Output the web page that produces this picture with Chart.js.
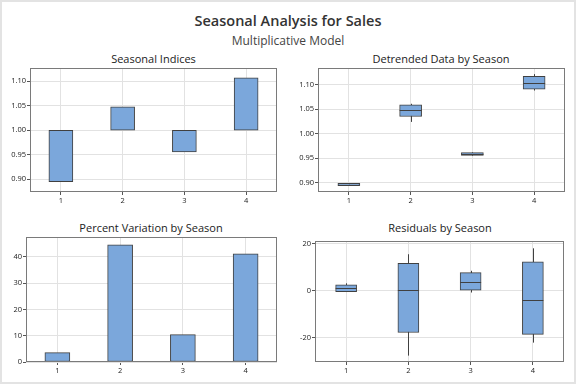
<!DOCTYPE html>
<html><head><meta charset="utf-8">
<script src="https://cdn.jsdelivr.net/npm/chart.js@4.4.0/dist/chart.umd.min.js"></script>
<style>
html,body{margin:0;padding:0;background:#fff;}
#page{position:relative;width:576px;height:384px;overflow:hidden;font-family:'Open Sans',sans-serif;color:#333;}
#border{position:absolute;left:0;top:0;width:576px;height:384px;box-sizing:border-box;border:2px solid #e3e3e3;pointer-events:none;}
.t{position:absolute;white-space:nowrap;transform:translate(-50%,-50%);line-height:1;}
canvas{position:absolute;}
</style></head><body>
<div id="page">
  <div class="t" style="left:288px;top:21px;font-size:14.5px;font-weight:600;color:#333;">Seasonal Analysis for Sales</div>
  <div class="t" style="left:288px;top:41px;font-size:12px;color:#444;">Multiplicative Model</div>
  <div class="t" style="left:153.5px;top:57.5px;font-size:11px;color:#222;">Seasonal Indices</div>
  <div class="t" style="left:441px;top:57.5px;font-size:11px;color:#222;">Detrended Data by Season</div>
  <div class="t" style="left:151px;top:226.5px;font-size:11px;color:#222;">Percent Variation by Season</div>
  <div class="t" style="left:440px;top:226.5px;font-size:11px;color:#222;">Residuals by Season</div>
  <canvas id="c1" width="288" height="166" style="left:0;top:44px;"></canvas>
  <canvas id="c2" width="288" height="166" style="left:288px;top:44px;"></canvas>
  <canvas id="c3" width="288" height="168" style="left:0;top:214px;"></canvas>
  <canvas id="c4" width="288" height="168" style="left:288px;top:214px;"></canvas>
  <div id="border"></div>
</div>
<script>
// ---- data ----
const seasons = ['1', '2', '3', '4'];
const indexBaseline = 1.0;
const seasonalIndices = [0.895, 1.048, 0.956, 1.107];
const indexTicks = [0.90, 0.95, 1.00, 1.05, 1.10];

const detrendedMin    = [0.894, 1.024, 0.955, 1.088];
const detrendedQ1     = [0.8942, 1.035, 0.9556, 1.091];
const detrendedMedian = [0.896, 1.049, 0.959, 1.104];
const detrendedQ3     = [0.8985, 1.059, 0.9615, 1.117];
const detrendedMax    = [0.899, 1.061, 0.962, 1.1215];
const detrendedTicks = [0.90, 0.95, 1.00, 1.05, 1.10];

const percentVariation = [3.6, 44.6, 10.4, 41.2];
const percentTicks = [0, 10, 20, 30, 40];

const residualMin    = [-0.5, -27.5, -0.8, -22.0];
const residualQ1     = [-0.4, -17.7, 0.0, -18.5];
const residualMedian = [1.3, 0.4, 3.8, -3.8];
const residualQ3     = [2.5, 11.6, 7.6, 12.2];
const residualMax    = [3.1, 15.4, 8.4, 17.9];
const residualTicks = [-20, 0, 20];

// ---- styles ----
const FILL = '#7ba7db';
const EDGE = '#404040';
const GRID = '#e2e2e2';
const TICKC = '#555';
const FONT = {family: "'Open Sans', sans-serif", size: 7.5};

const framePlugin = {
  id: 'frame',
  afterDatasetsDraw(chart) {
    const a = chart.chartArea, c = chart.ctx;
    c.save();
    c.strokeStyle = '#7a7a7a';
    c.lineWidth = 1;
    c.strokeRect(Math.round(a.left) + 0.5, Math.round(a.top) + 0.5,
                 Math.round(a.right - a.left) - 1, Math.round(a.bottom - a.top) - 1);
    c.restore();
  }
};

// whiskers (drawn under the boxes) and medians (drawn over), via the chart's scales
const boxPlugin = {
  id: 'boxparts',
  beforeDatasetsDraw(chart, args, opts) {
    if (!opts || !opts.min) return;
    const xs = chart.scales.x, ys = chart.scales.y, c = chart.ctx;
    c.save();
    c.strokeStyle = EDGE;
    c.lineWidth = 1;
    opts.min.forEach((v, i) => {
      const px = Math.round(xs.getPixelForValue(i)) + 0.5;
      c.beginPath();
      c.moveTo(px, ys.getPixelForValue(v));
      c.lineTo(px, ys.getPixelForValue(opts.max[i]));
      c.stroke();
    });
    c.restore();
  },
  afterDatasetsDraw(chart, args, opts) {
    if (!opts || !opts.median) return;
    const meta = chart.getDatasetMeta(0);
    const ys = chart.scales.y, c = chart.ctx;
    c.save();
    c.strokeStyle = EDGE;
    c.lineWidth = 1;
    meta.data.forEach((bar, i) => {
      const py = Math.round(ys.getPixelForValue(opts.median[i])) + 0.5;
      c.beginPath();
      c.moveTo(bar.x - bar.width / 2, py);
      c.lineTo(bar.x + bar.width / 2, py);
      c.stroke();
    });
    c.restore();
  }
};

function scales(yMin, yMax, yTicks, digits, yWidth, xHeight) {
  return {
    x: {
      type: 'category', offset: true,
      grid: {offset: false, color: GRID, tickColor: TICKC, tickLength: 3},
      border: {display: false},
      ticks: {font: FONT, color: '#222', padding: 1, maxRotation: 0},
      afterFit(s) { s.height = xHeight; }
    },
    y: {
      type: 'linear', min: yMin, max: yMax,
      afterBuildTicks(s) { s.ticks = yTicks.map(v => ({value: v})); },
      grid: {color: GRID, tickColor: TICKC, tickLength: 3},
      border: {display: false},
      ticks: {font: FONT, color: '#222', padding: 1,
              callback: v => Number(v).toFixed(digits)},
      afterFit(s) { s.width = yWidth; }
    }
  };
}

function baseOptions(pad, sc, extraPlugins) {
  return {
    responsive: false, animation: false, devicePixelRatio: 1,
    layout: {padding: pad},
    plugins: Object.assign({legend: {display: false}, tooltip: {enabled: false}, title: {display: false}}, extraPlugins || {}),
    scales: sc
  };
}

// Panel 1: Seasonal indices (floating bars from baseline)
new Chart(document.getElementById('c1'), {
  type: 'bar',
  data: {labels: seasons, datasets: [{
    data: seasonalIndices.map(v => [indexBaseline, v]),
    backgroundColor: FILL, borderColor: EDGE, borderWidth: 1, borderSkipped: false,
    barThickness: 24
  }]},
  options: baseOptions({top: 24, right: 11, left: 0, bottom: 0}, scales(0.874, 1.127, indexTicks, 2, 30, 18)),
  plugins: [framePlugin]
});

function boxChart(id, mins, q1, med, q3, maxs, yMin, yMax, ticks, digits, pad, yW, xH, thick) {
  new Chart(document.getElementById(id), {
    type: 'bar',
    data: {labels: seasons, datasets: [
      {data: q1.map((v, i) => [v, q3[i]]), backgroundColor: FILL, borderColor: EDGE,
       borderWidth: 1, borderSkipped: false, barThickness: thick}
    ]},
    options: baseOptions(pad, scales(yMin, yMax, ticks, digits, yW, xH),
      {boxparts: {min: mins, max: maxs, median: med}}),
    plugins: [framePlugin, boxPlugin]
  });
}

// Panel 2: Detrended data box plots
boxChart('c2', detrendedMin, detrendedQ1, detrendedMedian, detrendedQ3, detrendedMax,
  0.881, 1.134, detrendedTicks, 2, {top: 24, right: 11, left: 0, bottom: 0}, 30, 18, 22);

// Panel 3: Percent variation
new Chart(document.getElementById('c3'), {
  type: 'bar',
  data: {labels: seasons, datasets: [{
    data: percentVariation,
    backgroundColor: FILL, borderColor: EDGE, borderWidth: 1, borderSkipped: false,
    barThickness: 25
  }]},
  options: baseOptions({top: 23, right: 11, left: 0, bottom: 0}, scales(0, 47.6, percentTicks, 0, 26, 20)),
  plugins: [framePlugin]
});

// Panel 4: Residuals box plots
boxChart('c4', residualMin, residualQ1, residualMedian, residualQ3, residualMax,
  -30.2, 21, residualTicks, 0, {top: 27, right: 12, left: 0, bottom: 0}, 27, 20, 21);
</script>
</body></html>
